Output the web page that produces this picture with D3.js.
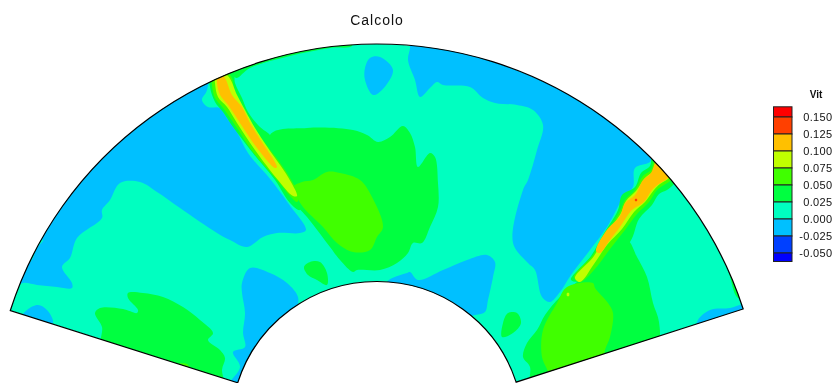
<!DOCTYPE html>
<html><head><meta charset="utf-8">
<script src="https://cdn.jsdelivr.net/npm/d3@7/dist/d3.min.js"></script>
<style>html,body{margin:0;padding:0;background:#fff}svg{display:block;filter:blur(0.55px)}text{font-family:"Liberation Sans",Arial,sans-serif;fill:#111}</style>
</head><body><svg id="c" width="836" height="383"></svg>
<script>
const title = "Calcolo";
const legendTitle = "Vit";
const legendTicks = [0.15,0.125,0.1,0.075,0.05,0.025,0,-0.025,-0.05];
const legendEdges = [0.165,0.15,0.125,0.1,0.075,0.05,0.025,0,-0.025,-0.05,-0.0625];
const bandColors = ["#ff0000","#ff4000","#ffc000","#c0ff00","#40ff00","#00ff40","#00ffc0","#00c0ff","#0040ff","#0000ff"];
const fan = {inner:145.5, outer:383, startAngle:-72.3, endAngle:72.05, axisY:-1, stretch:1.005};

// contour outlines, in section coordinates (x across, y up from the fan axis)
const blueLeft=[[-170,366],[-170,336],[-175,326],[-169,319],[-157,318],[-150,308],[-140,294],[-129,273],[-106,246],[-89,223],[-71,196],[-77,193],[-100,193],[-114,189],[-130,179],[-147,186],[-160,193],[-197,218],[-220,234],[-237,244],[-257,243],[-267,226],[-275,216],[-275,208],[-300,188],[-307,168],[-315,159],[-305,143],[-305,138],[-320,139],[-340,141],[-354,143],[-367,136],[-400,130],[-400,366]];
const blueCorner=[[-350,116],[-339,121],[-330,116],[-324,103],[-337,96],[-357,106]];
const blueTop=[[-12,358],[-7,368],[3,369],[16,356],[5,336],[-4,331],[-12,346]];
const blueInnerLeft=[[-135,143],[-127,158],[-107,153],[-90,143],[-79,129],[-81,116],[-127,36],[-152,36],[-137,59],[-144,74],[-132,79],[-134,93],[-132,113],[-135,133]];
const blueInnerMid=[[10,144],[30,153],[33,154],[41,146],[66,156],[90,166],[110,171],[118,164],[116,149],[111,126],[108,114],[98,111],[53,106],[13,126]];
const blueRight=[[33,396],[33,378],[31,366],[38,346],[43,329],[53,338],[60,344],[66,341],[93,339],[106,328],[118,323],[140,321],[156,316],[166,301],[160,276],[151,246],[146,236],[136,183],[151,163],[158,156],[165,129],[173,124],[183,134],[194,151],[213,176],[230,199],[245,226],[256,239],[258,258],[273,264],[281,276],[263,306],[123,396]];
const blueSE=[[320,104],[333,116],[353,118],[383,126],[373,96],[323,86]];
const tealSliver=[[-347,164],[-340,178],[-334,186],[-352,186],[-357,164]];
const rimTop=[[-145,356],[-77,381],[-27,388],[-25,380],[-47,378],[-87,370],[-127,358],[-141,348]];
const rimRight=[[331,201],[339,186],[351,156],[361,128],[373,128],[363,166],[338,211]];
const greenCentral=[[-107,291],[-70,298],[-24,296],[-10,291],[1,284],[13,289],[26,300],[33,293],[38,279],[41,259],[53,273],[58,269],[61,243],[61,219],[53,199],[45,183],[36,183],[31,173],[20,163],[3,156],[-20,156],[-24,154],[-37,166],[-47,179],[-70,209],[-87,229]];
const greenSmallA=[[-73,159],[-67,164],[-57,164],[-50,153],[-50,141],[-60,146],[-69,151]];
const greenSmallB=[[126,103],[131,113],[140,113],[144,103],[136,93],[125,89]];
const greenSW=[[-249,133],[-234,133],[-214,129],[-194,119],[-177,106],[-164,93],[-169,86],[-157,76],[-152,68],[-155,56],[-153,36],[-227,56],[-275,81],[-275,99],[-282,113],[-277,118],[-254,117],[-240,113],[-239,116],[-249,128]];
const greenSE=[[153,59],[146,69],[150,83],[160,96],[168,111],[183,129],[200,144],[213,151],[221,166],[231,179],[250,186],[260,169],[270,149],[276,123],[282,104],[280,81],[223,51],[153,31]];
const greenStreakL=[[-167,339],[-162,324],[-154,314],[-144,299],[-125,274],[-102,246],[-87,223],[-77,216],[-77,246],[-107,291],[-117,299],[-129,314],[-135,328],[-142,343],[-144,356],[-167,356]];
const greenStreakR=[[194,146],[214,170],[226,191],[241,216],[245,231],[258,239],[264,253],[273,260],[276,273],[305,256],[297,242],[290,236],[282,232],[275,221],[262,207],[253,184],[216,147]];
const limeTiny=[[-201,61],[-190,62],[-187,56],[-201,56]];
const limeCentre=[[-75,244],[-64,246],[-50,254],[-37,253],[-17,246],[-5,229],[6,199],[0,189],[-7,176],[-24,174],[-40,183],[-54,199],[-74,219],[-80,229],[-84,239]];
const limeSE=[[171,54],[165,69],[166,96],[180,123],[190,139],[216,143],[218,138],[231,123],[236,113],[233,89],[228,76],[223,51],[173,36]];
const limeStreakL=[[-165,341],[-162,328],[-154,318],[-142,301],[-124,274],[-100,246],[-85,228],[-80,224],[-78,229],[-90,253],[-112,283],[-124,299],[-134,316],[-142,333],[-147,351],[-165,356]];
const limeStreakR=[[197,149],[216,171],[228,190],[243,215],[248,226],[258,236],[266,250],[274,256],[279,270],[300,254],[293,245],[287,241],[280,236],[272,224],[260,212],[248,196],[233,177],[217,156],[203,144]];
const yellowStreakL=[[-162,343],[-159,329],[-150,319],[-140,303],[-122,276],[-99,246],[-84,230],[-80,230],[-89,249],[-109,278],[-122,298],[-132,316],[-140,331],[-149,350],[-162,356]];
const yellowStreakR=[[198,148],[217,170],[229,191],[244,213],[249,225],[259,235],[268,248],[276,255],[281,268],[297,253],[291,247],[283,242],[277,236],[268,224],[257,214],[245,197],[230,181],[217,162],[203,144]];
const yellowDot=[[190,130],[192,130],[192,133],[190,133]];
const orangeStreakL=[[-160,343],[-157,331],[-149,321],[-139,306],[-120,278],[-102,258],[-100,259],[-115,284],[-127,303],[-135,319],[-145,331],[-152,348],[-159,356]];
const orangeStreakR=[[219,175],[229,195],[243,210],[248,223],[258,231],[266,246],[274,253],[281,268],[295,254],[290,247],[282,242],[275,236],[267,224],[255,216],[243,199],[233,186],[223,173]];
const redDot=[[258,225],[260,225],[260,227],[258,227]];

// band index into bandColors, drawn from the lowest level up
const contours=[[7,blueLeft],[7,blueCorner],[7,blueTop],[7,blueInnerLeft],[7,blueInnerMid],[7,blueRight],[7,blueSE],
 [6,tealSliver],[5,rimTop],[5,rimRight],
 [5,greenCentral],[5,greenSmallA],[5,greenSmallB],[5,greenSW],[5,greenSE],[5,greenStreakL],[5,greenStreakR],
 [4,limeTiny],[4,limeCentre],[4,limeSE],[4,limeStreakL],[4,limeStreakR],
 [3,yellowStreakL],[3,yellowStreakR],[3,yellowDot],[2,orangeStreakL],[2,orangeStreakR],[1,redDot]];

const svg=d3.select("#c");
const x=d3.scaleLinear().domain([-383,383]).range([-6,760]);
const y=d3.scaleLinear().domain([0,383]).range([426,43]);
const rad=d=>x(d)-x(0);
const deg=Math.PI/180;
const sector=d3.arc().innerRadius(rad(fan.inner)).outerRadius(rad(fan.outer)).startAngle(fan.startAngle*deg).endAngle(fan.endAngle*deg)();
const org=`translate(${x(0)},${y(fan.axisY)}) scale(${fan.stretch},1)`;

svg.append("clipPath").attr("id","fan").append("path").attr("d",sector).attr("transform",org);
const g=svg.append("g").attr("clip-path","url(#fan)");
g.append("path").attr("d",sector).attr("transform",org).attr("fill",bandColors[6]);
const outline=d3.line().x(d=>x(d[0])).y(d=>y(d[1])).curve(d3.curveCatmullRomClosed.alpha(0.5));
g.selectAll("path.c").data(contours).join("path").attr("class","c")
 .attr("d",d=>outline(d[1])).attr("fill",d=>bandColors[d[0]]);
svg.append("path").attr("d",sector).attr("transform",org).attr("fill","none").attr("stroke","#000").attr("stroke-width",1.2);

svg.append("text").attr("x",x(0)).attr("y",25).attr("text-anchor","middle").attr("font-size",14).attr("letter-spacing",1).text(title);

const ly=d3.scaleLinear().domain([-0.05,0.15]).range([253,117]);
const lg=svg.append("g");
lg.selectAll("rect").data(bandColors).join("rect")
 .attr("x",773.5).attr("width",18.5)
 .attr("y",(d,i)=>ly(legendEdges[i])).attr("height",(d,i)=>ly(legendEdges[i+1])-ly(legendEdges[i]))
 .attr("fill",d=>d).attr("stroke","#222").attr("stroke-width",1);
lg.selectAll("text.t").data(legendTicks).join("text").attr("class","t")
 .attr("x",832.5).attr("y",d=>ly(d)+4).attr("text-anchor","end").attr("font-size",11).attr("letter-spacing",0.35)
 .text(d=>d3.format(".3f")(d).replace("\u2212","-"));
svg.append("text").attr("x",816).attr("y",98).attr("text-anchor","middle").attr("font-size",10).attr("font-weight","bold").text(legendTitle);
</script></body></html>
